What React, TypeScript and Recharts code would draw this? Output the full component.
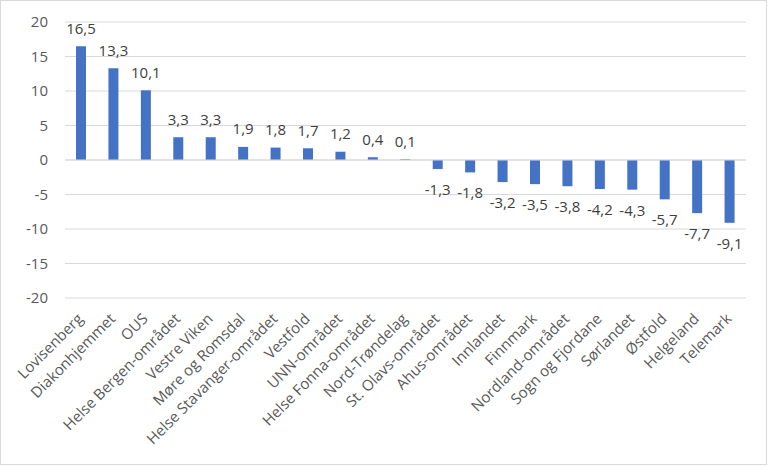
import React from "react";
import { BarChart, Bar, XAxis, YAxis, CartesianGrid, LabelList, ReferenceLine } from "recharts";

const categories = [
  "Lovisenberg", "Diakonhjemmet", "OUS", "Helse Bergen-området", "Vestre Viken",
  "Møre og Romsdal", "Helse Stavanger-området", "Vestfold", "UNN-området",
  "Helse Fonna-området", "Nord-Trøndelag", "St. Olavs-området", "Ahus-området",
  "Innlandet", "Finnmark", "Nordland-området", "Sogn og Fjordane", "Sørlandet",
  "Østfold", "Helgeland", "Telemark",
];
const values = [16.5, 13.3, 10.1, 3.3, 3.3, 1.9, 1.8, 1.7, 1.2, 0.4, 0.1, -1.3, -1.8, -3.2, -3.5, -3.8, -4.2, -4.3, -5.7, -7.7, -9.1];
const yTicks = [-20, -15, -10, -5, 0, 5, 10, 15, 20];

const data = categories.map((name, i) => ({ name, value: values[i] }));

const FONT = "'Open Sans', sans-serif";

const XTick = (props: any) => {
  const { x, payload } = props;
  const ax = x - 1;
  const ay = 316;
  return (
    <text
      x={ax}
      y={ay}
      transform={`rotate(-45 ${ax} ${ay})`}
      textAnchor="end"
      dy="0.35em"
      fill="#595959"
      fontSize={15}
      fontFamily={FONT}
    >
      {payload.value}
    </text>
  );
};

const ValueLabel = (props: any) => {
  const { x, y, width, height, value } = props;
  const top = Math.min(y, y + height);
  const bottom = Math.max(y, y + height);
  const cx = x + width / 2;
  const ty = value >= 0 ? top - 12.5 : bottom + 26;
  return (
    <text x={cx} y={ty} textAnchor="middle" fill="#404040" fontSize={15} fontFamily={FONT}>
      {String(value).replace(".", ",")}
    </text>
  );
};

export default function App() {
  return (
    <div style={{ position: "absolute", left: 0, top: 0, width: 768, height: 466 }}>
      <div
        style={{
          position: "absolute",
          left: 0,
          top: 0,
          width: 765,
          height: 463,
          border: "1px solid #d9d9d9",
          background: "#fff",
        }}
      />
      <div style={{ position: "absolute", left: 0, top: 0 }}>
        <BarChart
          width={768}
          height={466}
          data={data}
          margin={{ top: 22, right: 22, left: 0, bottom: 0 }}
          barCategoryGap={0}
        >
          <CartesianGrid vertical={false} stroke="#d9d9d9" />
          <YAxis
            domain={[-20, 20]}
            ticks={yTicks}
            width={65}
            axisLine={false}
            tickLine={false}
            tickMargin={11}
            tick={{ fill: "#595959", fontSize: 15, fontFamily: FONT }}
          />
          <XAxis
            dataKey="name"
            interval={0}
            height={168}
            axisLine={false}
            tickLine={false}
            tick={<XTick />}
          />
          <ReferenceLine y={0} stroke="#d9d9d9" />
          <Bar dataKey="value" fill="#4472C4" barSize={10} isAnimationActive={false}>
            <LabelList dataKey="value" content={<ValueLabel />} />
          </Bar>
        </BarChart>
      </div>
    </div>
  );
}
